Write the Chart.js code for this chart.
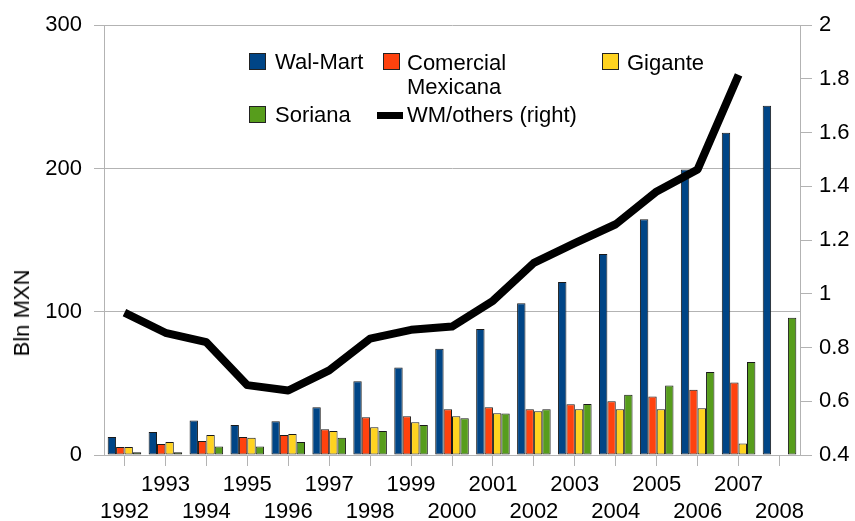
<!DOCTYPE html>
<html>
<head>
<meta charset="utf-8">
<script src="https://cdn.jsdelivr.net/npm/chart.js@4"></script>
<style>
  html, body { margin: 0; padding: 0; background: #fff; }
  #wrap { position: relative; width: 855px; height: 521px; font-family: 'Liberation Sans', Arial, sans-serif; color: #000; }
  canvas { display: block; }
  .lg { position: absolute; font-size: 22px; line-height: 24px; white-space: nowrap; }
  .box { position: absolute; width: 15px; height: 15px; border: 1px solid #222; }
  .ln { position: absolute; width: 26px; height: 7px; background: #000; }
  #ytitle { position: absolute; left: 22px; top: 313px; font-size: 22px; white-space: nowrap;
            transform: translate(-50%, -50%) rotate(-90deg); }
</style>
</head>
<body>
<div id="wrap">
  <canvas id="chart" width="855" height="521"></canvas>
  <div id="ytitle">Bln MXN</div>
  <div class="box" style="left:249px;top:53px;background:#004586"></div>
  <div class="lg" style="left:275px;top:50px">Wal-Mart</div>
  <div class="box" style="left:383px;top:53px;background:#ff420e"></div>
  <div class="lg" style="left:407px;top:51px">Comercial<br>Mexicana</div>
  <div class="box" style="left:602px;top:53px;background:#ffd320"></div>
  <div class="lg" style="left:627px;top:51px">Gigante</div>
  <div class="box" style="left:249px;top:106px;background:#579d1c"></div>
  <div class="lg" style="left:275px;top:103px">Soriana</div>
  <div class="ln" style="left:377px;top:112px"></div>
  <div class="lg" style="left:407px;top:103px">WM/others (right)</div>
</div>
<script>
const years = ['1992', '1993', '1994', '1995', '1996', '1997', '1998', '1999', '2000',
  '2001', '2002', '2003', '2004', '2005', '2006', '2007', '2008'];
const walmart = [12.5, 16, 24, 21, 23.6, 33.3, 51.4, 61, 74.2, 88, 106, 120.8, 140.3, 164.6, 199.3, 225, 243.8];
const comercial = [5.5, 7.6, 9.7, 12.5, 14, 18, 26.4, 27, 32, 33.3, 32, 35.4, 37.5, 40.8, 45.6, 50.6, null];
const gigante = [5.5, 9, 14, 12, 14.6, 16.7, 19.4, 22.9, 27, 29.2, 30.6, 31.9, 32, 31.9, 32.6, 8, null];
const soriana = [2, 2, 6, 6, 9, 12, 16.7, 21, 25.7, 29, 32, 35.6, 42, 48.5, 58, 65, 95.8];
const wmOthers = [0.93, 0.855, 0.82, 0.66, 0.64, 0.715, 0.833, 0.866, 0.878, 0.974, 1.115, 1.189, 1.259, 1.381, 1.463, 1.815, null];

// staggered year labels: odd years on the first row, even years on the second
const xLabels = years.map((y, i) => (i % 2 === 0 ? ['', y] : [y, '']));

const gridGray = '#b3b3b3';
Chart.defaults.font.family = "'Liberation Sans', Arial, sans-serif";
Chart.defaults.font.size = 22;
Chart.defaults.color = '#000';

function bar(label, data, color) {
  return {
    type: 'bar', label, data, backgroundColor: color,
    borderColor: '#1a1a1a', borderWidth: 1, borderSkipped: false, yAxisID: 'y', order: 1
  };
}

new Chart(document.getElementById('chart').getContext('2d'), {
  data: {
    labels: xLabels,
    datasets: [
      {
        type: 'line', label: 'WM/others (right)', data: wmOthers, yAxisID: 'y1',
        borderColor: '#000', borderWidth: 8, pointRadius: 0, tension: 0,
        borderJoinStyle: 'round', order: 0
      },
      bar('Wal-Mart', walmart, '#004586'),
      bar('Comercial Mexicana', comercial, '#ff420e'),
      bar('Gigante', gigante, '#ffd320'),
      bar('Soriana', soriana, '#579d1c')
    ]
  },
  options: {
    responsive: false,
    animation: false,
    categoryPercentage: 0.82,
    barPercentage: 1,
    layout: { padding: { top: 23, left: 0, right: 0, bottom: 0 } },
    plugins: { legend: { display: false }, tooltip: { enabled: false } },
    scales: {
      x: {
        grid: { drawOnChartArea: false, offset: false, color: gridGray, tickLength: 11 },
        border: { color: gridGray },
        ticks: { autoSkip: false, maxRotation: 0, padding: 6 },
        afterFit: s => { s.height = 66; }
      },
      y: {
        position: 'left', min: 0, max: 300,
        ticks: { stepSize: 100, padding: 12 },
        grid: { color: gridGray, tickLength: 10 },
        border: { color: gridGray },
        afterFit: s => { s.width = 104; }
      },
      y1: {
        position: 'right', min: 0.4, max: 2,
        ticks: { stepSize: 0.2, padding: 7, callback: v => String(Number(v.toFixed(1))) },
        grid: { drawOnChartArea: false, color: gridGray, tickLength: 12 },
        border: { color: gridGray },
        afterFit: s => { s.width = 55; }
      }
    }
  }
});
</script>
</body>
</html>
